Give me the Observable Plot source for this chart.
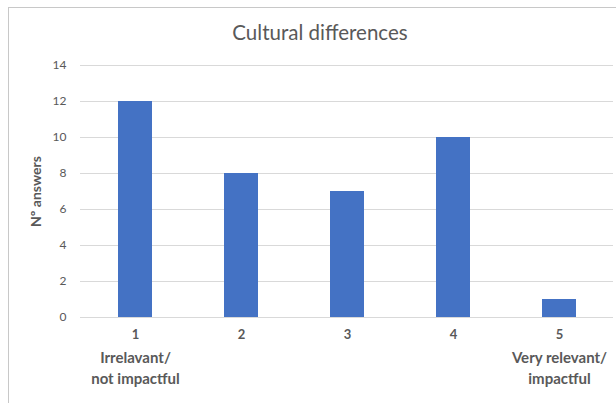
<!DOCTYPE html>
<html><head><meta charset="utf-8">
<script src="https://cdn.jsdelivr.net/npm/d3@7"></script>
<script src="https://cdn.jsdelivr.net/npm/@observablehq/plot@0.6"></script>
<style>
html,body{margin:0;padding:0;background:#fff;}
#wrap{position:relative;width:616px;height:403px;overflow:hidden;font-family:Lato,"Open Sans",sans-serif;}
#frame{position:absolute;left:8px;top:7px;width:700px;height:500px;border:1.5px solid #c8c8c8;box-sizing:border-box;}
#title{position:absolute;left:0;width:640px;top:20px;text-align:center;font-size:20.5px;color:#595959;}
#chart{position:absolute;left:0;top:0;}
</style></head>
<body><div id="wrap"><div id="frame"></div><div id="title">Cultural differences</div><div id="chart"></div></div>
<script>
const categories = ["1","2","3","4","5"];
const answers = [12, 8, 7, 10, 1];
const yTicks = [0, 2, 4, 6, 8, 10, 12, 14];
const endLabels = [{cat:"1", label:"Irrelavant/\nnot impactful"}, {cat:"5", label:"Very relevant/\nimpactful"}];
const data = categories.map((c,i)=>({cat:c, value:answers[i]}));

const chart = Plot.plot({
  width: 616, height: 403,
  marginTop: 65, marginBottom: 86, marginLeft: 80, marginRight: 3,
  style: {fontFamily: "Lato, 'Open Sans', sans-serif", background: "transparent"},
  x: {domain: categories, paddingInner: 0.68, paddingOuter: 0.34, label: null},
  y: {domain: [0, 14], ticks: yTicks, label: null},
  marks: [
    Plot.gridY(yTicks, {stroke: "#d9d9d9", strokeOpacity: 1, strokeWidth: 1}),
    Plot.barY(data, {x: "cat", y: "value", fill: "#4472C4"}),
    Plot.axisY(yTicks, {tickSize: 0, tickPadding: 14, fontSize: 12, fill: "#595959", label: null}),
    Plot.axisX({tickSize: 0, tickPadding: 12, fontSize: 13, fontWeight: "bold", fill: "#595959", label: null}),
    Plot.text(endLabels, {x: "cat", frameAnchor: "bottom", text: "label", dy: 31, lineAnchor: "top", lineHeight: 1.4, fontSize: 15, fontWeight: "bold", fill: "#595959"}),
    Plot.text(["Nº answers"], {frameAnchor: "left", textAnchor: "middle", dx: -44, rotate: -90, fontSize: 14, fontWeight: "bold", fill: "#595959"})
  ]
});
document.getElementById("chart").appendChild(chart);
</script></body></html>
